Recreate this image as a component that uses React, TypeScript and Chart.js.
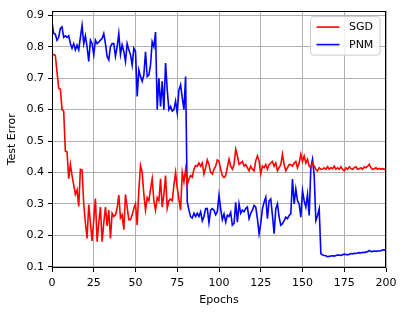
import React, { useEffect, useRef } from "react";
import { Chart, registerables } from "chart.js";

Chart.register(...registerables);

const sgdError: number[] = [
  0.775, 0.775, 0.772, 0.72, 0.668, 0.665, 0.6, 0.595, 0.468, 0.466,
  0.38, 0.426, 0.39, 0.36, 0.33, 0.345, 0.292, 0.41, 0.408, 0.3,
  0.24, 0.19, 0.298, 0.24, 0.182, 0.25, 0.317, 0.18, 0.24, 0.29,
  0.18, 0.24, 0.29, 0.23, 0.28, 0.19, 0.27, 0.26, 0.265, 0.286,
  0.328, 0.255, 0.265, 0.218, 0.33, 0.29, 0.25, 0.25, 0.265, 0.285,
  0.3, 0.233, 0.343, 0.422, 0.4, 0.33, 0.28, 0.32, 0.31, 0.347,
  0.38, 0.31, 0.28, 0.32, 0.31, 0.38, 0.29, 0.33, 0.39, 0.286,
  0.31, 0.315, 0.31, 0.36, 0.4, 0.35, 0.315, 0.28, 0.4, 0.37,
  0.41, 0.36, 0.38, 0.39, 0.385, 0.41, 0.422, 0.42, 0.43, 0.42,
  0.43, 0.395, 0.415, 0.44, 0.425, 0.4, 0.395, 0.41, 0.42, 0.44,
  0.435, 0.41, 0.39, 0.384, 0.39, 0.416, 0.442, 0.42, 0.41, 0.425,
  0.474, 0.453, 0.426, 0.43, 0.435, 0.42, 0.425, 0.415, 0.405, 0.42,
  0.41, 0.405, 0.437, 0.453, 0.437, 0.395, 0.42, 0.415, 0.425, 0.41,
  0.425, 0.43, 0.435, 0.42, 0.43, 0.405, 0.415, 0.425, 0.458, 0.425,
  0.405, 0.415, 0.425, 0.425, 0.42, 0.43, 0.435, 0.415, 0.43, 0.458,
  0.435, 0.452, 0.43, 0.442, 0.42, 0.415, 0.43, 0.42, 0.41, 0.405,
  0.415, 0.41, 0.41, 0.415, 0.41, 0.418, 0.41, 0.415, 0.412, 0.42,
  0.41, 0.415, 0.41, 0.418, 0.41, 0.405, 0.415, 0.41, 0.418, 0.412,
  0.41, 0.415, 0.418, 0.41, 0.412, 0.415, 0.41, 0.418, 0.415, 0.42,
  0.426, 0.415, 0.41, 0.412, 0.415, 0.41, 0.413, 0.41, 0.412, 0.41,
  0.412,
];

const pnmError: number[] = [
  0.879, 0.842, 0.84, 0.821, 0.83, 0.858, 0.863, 0.83, 0.835, 0.83,
  0.835, 0.81, 0.795, 0.81, 0.79, 0.805, 0.79, 0.83, 0.868, 0.81,
  0.835, 0.8, 0.753, 0.821, 0.81, 0.774, 0.821, 0.81, 0.815, 0.821,
  0.826, 0.842, 0.81, 0.769, 0.758, 0.8, 0.81, 0.81, 0.769, 0.8,
  0.842, 0.775, 0.806, 0.785, 0.753, 0.81, 0.79, 0.775, 0.742, 0.795,
  0.785, 0.642, 0.726, 0.705, 0.69, 0.71, 0.784, 0.705, 0.71, 0.742,
  0.816, 0.8, 0.847, 0.6, 0.7, 0.61, 0.69, 0.6, 0.748, 0.663,
  0.6, 0.61, 0.595, 0.6, 0.627, 0.59, 0.663, 0.679, 0.637, 0.6,
  0.705, 0.306, 0.28, 0.259, 0.255, 0.27, 0.26, 0.27, 0.26, 0.275,
  0.246, 0.26, 0.285, 0.285, 0.24, 0.28, 0.285, 0.28, 0.265, 0.275,
  0.327, 0.285, 0.25, 0.268, 0.242, 0.264, 0.26, 0.273, 0.232, 0.238,
  0.305, 0.242, 0.3, 0.27, 0.28, 0.275, 0.285, 0.29, 0.253, 0.27,
  0.28, 0.295, 0.29, 0.253, 0.205, 0.237, 0.284, 0.305, 0.321, 0.253,
  0.31, 0.316, 0.263, 0.205, 0.284, 0.3, 0.258, 0.232, 0.237, 0.247,
  0.258, 0.253, 0.263, 0.268, 0.379, 0.3, 0.347, 0.31, 0.3, 0.258,
  0.342, 0.31, 0.29, 0.33, 0.263, 0.416, 0.442, 0.39, 0.247, 0.263,
  0.284, 0.142, 0.137, 0.136, 0.135, 0.132, 0.133, 0.134, 0.135, 0.134,
  0.136, 0.137, 0.137, 0.136, 0.138, 0.14, 0.139, 0.138, 0.14, 0.142,
  0.141, 0.143, 0.142, 0.144, 0.145, 0.144, 0.146, 0.145, 0.147, 0.148,
  0.152, 0.148, 0.149, 0.15, 0.149, 0.15, 0.15, 0.151, 0.154, 0.153,
  0.155,
];

const xTicks: number[] = [0, 25, 50, 75, 100, 125, 150, 175, 200];
const yTicks: number[] = [0.1, 0.2, 0.3, 0.4, 0.5, 0.6, 0.7, 0.8, 0.9];
const seriesNames: string[] = ["SGD", "PNM"];
const seriesColors: string[] = ["#ff0000", "#0000ff"];

const FONT = "DejaVu Sans";

const framePlugin = {
  id: "frame",
  afterDatasetsDraw(chart: any) {
    const { ctx, chartArea } = chart;
    const l = Math.round(chartArea.left) + 0.5;
    const t = Math.round(chartArea.top) + 0.5;
    const r = Math.round(chartArea.right) - 0.5;
    const b = Math.round(chartArea.bottom) - 0.5;
    ctx.save();
    ctx.strokeStyle = "#000";
    ctx.lineWidth = 1;
    ctx.strokeRect(l, t, r - l, b - t);
    ctx.restore();
  },
  afterDraw(chart: any) {
    const { ctx, chartArea } = chart;
    const bx = chartArea.right - 75.5;
    const by = chartArea.top + 6;
    const bw = 69.5;
    const bh = 38.5;
    ctx.save();
    ctx.beginPath();
    const rr = 3;
    ctx.moveTo(bx + rr, by);
    ctx.lineTo(bx + bw - rr, by);
    ctx.arcTo(bx + bw, by, bx + bw, by + rr, rr);
    ctx.lineTo(bx + bw, by + bh - rr);
    ctx.arcTo(bx + bw, by + bh, bx + bw - rr, by + bh, rr);
    ctx.lineTo(bx + rr, by + bh);
    ctx.arcTo(bx, by + bh, bx, by + bh - rr, rr);
    ctx.lineTo(bx, by + rr);
    ctx.arcTo(bx, by, bx + rr, by, rr);
    ctx.closePath();
    ctx.fillStyle = "rgba(255,255,255,0.8)";
    ctx.fill();
    ctx.strokeStyle = "#cccccc";
    ctx.lineWidth = 1;
    ctx.stroke();
    ctx.font = `11px "${FONT}"`;
    ctx.textBaseline = "middle";
    ctx.textAlign = "left";
    seriesNames.forEach((name, i) => {
      const ly = by + 10.5 + i * 17.5;
      ctx.beginPath();
      ctx.moveTo(bx + 6, ly);
      ctx.lineTo(bx + 29, ly);
      ctx.strokeStyle = seriesColors[i];
      ctx.lineWidth = 1.6;
      ctx.stroke();
      ctx.fillStyle = "#000";
      ctx.fillText(name, bx + 38.5, ly + 0.5);
    });
    ctx.restore();
  },
};

export default function App() {
  const canvasRef = useRef<HTMLCanvasElement | null>(null);

  useEffect(() => {
    const canvas = canvasRef.current;
    if (!canvas) return;
    const seriesList = [sgdError, pnmError];
    const chart = new Chart(canvas, {
      type: "line",
      data: {
        datasets: seriesList.map((vals, i) => ({
          label: seriesNames[i],
          data: vals.map((v, e) => ({ x: e, y: v })),
          borderColor: seriesColors[i],
          backgroundColor: seriesColors[i],
          borderWidth: 1.6,
          pointRadius: 0,
          tension: 0,
          fill: false,
        })),
      },
      options: {
        responsive: false,
        animation: false,
        layout: { padding: { left: 0, right: 21, top: 8, bottom: 0 } },
        plugins: { legend: { display: false }, tooltip: { enabled: false } },
        scales: {
          x: {
            type: "linear",
            min: 0,
            max: 200,
            afterBuildTicks: (s: any) => {
              s.ticks = xTicks.map((v) => ({ value: v }));
            },
            afterFit: (s: any) => {
              s.height = 47;
            },
            grid: {
              color: "#b0b0b0",
              lineWidth: 1,
              tickLength: 4,
              tickColor: "#000",
            },
            border: { display: false },
            ticks: {
              color: "#000",
              font: { family: FONT, size: 11 },
              padding: 5,
              maxRotation: 0,
              autoSkip: false,
            },
            title: {
              display: true,
              text: "Epochs",
              color: "#000",
              font: { family: FONT, size: 11 },
              padding: { top: 0, bottom: 8 },
            },
          },
          y: {
            type: "linear",
            min: 0.096,
            max: 0.915,
            afterBuildTicks: (s: any) => {
              s.ticks = yTicks.map((v) => ({ value: v }));
            },
            afterFit: (s: any) => {
              s.width = 52;
            },
            grid: {
              color: "#b0b0b0",
              lineWidth: 1,
              tickLength: 4,
              tickColor: "#000",
            },
            border: { display: false },
            ticks: {
              color: "#000",
              font: { family: FONT, size: 11 },
              padding: 4,
              callback: (v: any) => Number(v).toFixed(1),
            },
            title: {
              display: true,
              text: "Test Error",
              color: "#000",
              font: { family: FONT, size: 11 },
              padding: { top: 6, bottom: 0 },
            },
          },
        },
      },
      plugins: [framePlugin],
    } as any);
    return () => chart.destroy();
  }, []);

  return (
    <div style={{ position: "absolute", left: 0, top: 0, width: 407, height: 315, background: "#fff" }}>
      <canvas ref={canvasRef} width={407} height={315} style={{ width: 407, height: 315, display: "block" }} />
    </div>
  );
}
